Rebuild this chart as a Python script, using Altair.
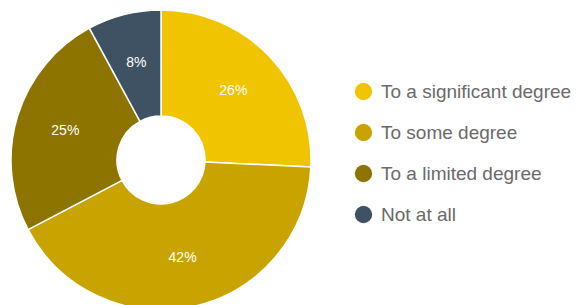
import altair as alt
import pandas as pd

categories = ["To a significant degree", "To some degree", "To a limited degree", "Not at all"]
values = [26, 42, 25, 8]
labels = ["26%", "42%", "25%", "8%"]
colors = ["#F0C400", "#C9A300", "#8D7400", "#3E5264"]

df = pd.DataFrame({
    "category": categories,
    "value": values,
    "label": labels,
    "order": list(range(len(categories))),
})

CX, CY = 153, 152

base = alt.Chart(df).encode(
    theta=alt.Theta("value:Q", stack=True),
    order=alt.Order("order:Q"),
)

arcs = base.mark_arc(
    x=CX, y=CY, radius=150, radius2=44, stroke="white", strokeWidth=1.5
).encode(
    color=alt.Color(
        "category:N",
        sort=categories,
        scale=alt.Scale(domain=categories, range=colors),
        legend=alt.Legend(
            title=None,
            orient="none",
            legendX=346,
            legendY=74,
            symbolType="circle",
            symbolSize=300,
            symbolStrokeWidth=0,
            labelFontSize=19,
            labelFont="Liberation Sans",
            labelColor="#6a6a6a",
            labelOffset=8,
            rowPadding=21,
            padding=0,
            labelLimit=300,
        ),
    )
)

text = base.mark_text(
    x=CX, y=CY, radius=100, fontSize=14, font="Liberation Sans", color="white"
).encode(text="label:N")

chart = alt.layer(arcs, text).properties(
    width=572,
    height=297,
    padding=0,
    autosize=alt.AutoSizeParams(type="none"),
).configure_view(stroke=None)

chart.save("out.html", embed_options={"renderer": "svg", "actions": False})
